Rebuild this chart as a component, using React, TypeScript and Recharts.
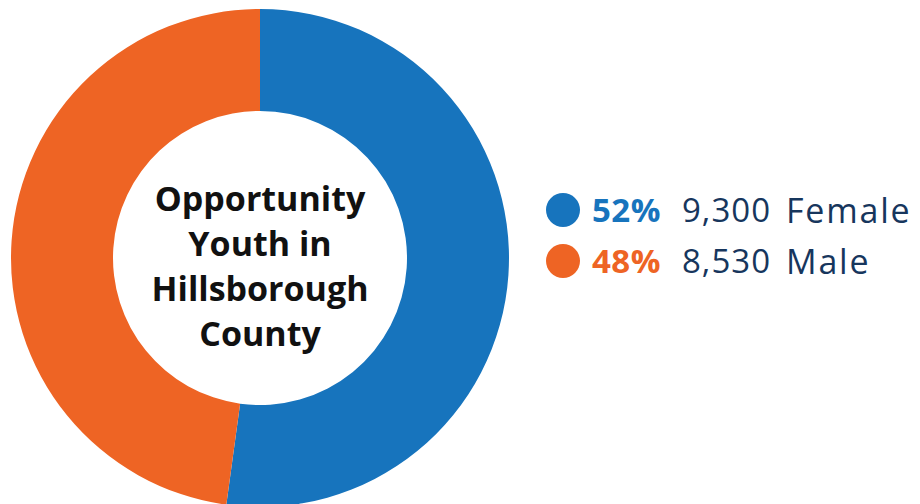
import * as React from 'react';
import { PieChart, Pie, Cell, Label, Legend } from 'recharts';

const categories = ['Female', 'Male'];
const counts = [9300, 8530];
const shares = [52, 48];
const colors = ['#1774bd', '#ee6424'];
const titleLines = ['Opportunity', 'Youth in', 'Hillsborough', 'County'];

const data = categories.map((name, i) => ({ name, value: counts[i], share: shares[i] }));

const CX = 260;
const CY = 258;
const TEXT_DARK = '#17365d';
const FONT = '"Open Sans", Lato, sans-serif';

// Legend: dot, bold percent, count, label
function LegendRows() {
  return (
    <div style={{ fontFamily: FONT }}>
      {data.map((d, i) => (
        <div
          key={d.name}
          style={{ display: 'flex', alignItems: 'center', height: 51, whiteSpace: 'nowrap' }}
        >
          <span
            style={{
              width: 34,
              height: 34,
              borderRadius: '50%',
              background: colors[i],
              display: 'inline-block',
              marginRight: 12,
            }}
          />
          <span
            style={{ color: colors[i], fontWeight: 700, fontSize: 33, width: 90, letterSpacing: 0.5 }}
          >
            {d.share}%
          </span>
          <span style={{ color: TEXT_DARK, fontSize: 33, width: 104, letterSpacing: 1 }}>
            {d.value.toLocaleString('en-US')}
          </span>
          <span style={{ color: TEXT_DARK, fontSize: 34, letterSpacing: 1.8 }}>{d.name}</span>
        </div>
      ))}
    </div>
  );
}

function CenterTitle() {
  const lineHeight = 45;
  const top = CY - (lineHeight * (titleLines.length - 1)) / 2;
  return (
    <text
      x={CX}
      textAnchor="middle"
      dominantBaseline="central"
      fontFamily='"Open Sans", Lato, sans-serif'
      fontWeight={700}
      fontSize={34}
      fill="#111"
    >
      {titleLines.map((line, i) => (
        <tspan key={line} x={CX} y={top + i * lineHeight + 7}>
          {line}
        </tspan>
      ))}
    </text>
  );
}

export default function App() {
  return (
    <div style={{ position: 'absolute', left: 0, top: 0, width: 920, height: 504, background: '#fff' }}>
      <PieChart width={920} height={504} margin={{ top: 0, right: 0, bottom: 0, left: 0 }}>
        <Pie
          data={data}
          dataKey="value"
          nameKey="name"
          cx={CX}
          cy={CY}
          innerRadius={147}
          outerRadius={249}
          startAngle={90}
          endAngle={-270}
          stroke="none"
          isAnimationActive={false}
        >
          {data.map((d, i) => (
            <Cell key={d.name} fill={colors[i]} />
          ))}
          <Label position="center" content={CenterTitle} />
        </Pie>
        <Legend
          layout="vertical"
          content={() => <LegendRows />}
          wrapperStyle={{ position: 'absolute', left: 546, top: 184, width: 380 }}
        />
      </PieChart>
    </div>
  );
}
